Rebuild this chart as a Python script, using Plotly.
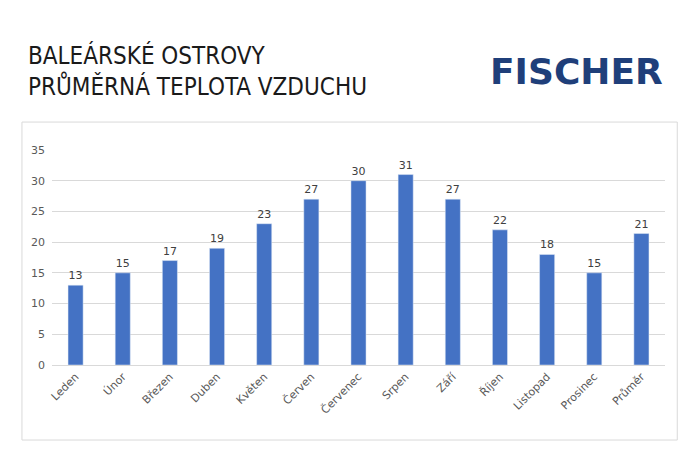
import plotly.graph_objects as go

months = ["Leden", "Únor", "Březen", "Duben", "Květen", "Červen", "Červenec",
          "Srpen", "Září", "Říjen", "Listopad", "Prosinec", "Průměr"]
temps = [13, 15, 17, 19, 23, 27, 30, 31, 27, 22, 18, 15, 21.4]
labels = [str(round(v)) for v in temps]

fig = go.Figure()
fig.add_trace(go.Bar(
    x=months, y=temps, text=labels, textposition="outside",
    marker_color="#4472C4", cliponaxis=False,
    textfont=dict(size=11, color="#404040", family="DejaVu Sans"),
))

fig.update_layout(
    width=700, height=450,
    paper_bgcolor="white", plot_bgcolor="white",
    margin=dict(l=44, r=43, t=142, b=93),
    bargap=0.68,
    showlegend=False,
    font=dict(family="DejaVu Sans", color="#595959"),
    xaxis=dict(tickangle=-45, tickfont=dict(size=11, color="#595959"),
               showline=True, linecolor="#D9D9D9", ticks=""),
    yaxis=dict(range=[0, 35], dtick=5, showgrid=True, gridcolor="#D9D9D9",
               tickfont=dict(size=11, color="#595959"), zeroline=False,
               ticks="", ticklabelstandoff=6),
    shapes=[dict(type="rect", xref="paper", yref="paper",
                 x0=-0.049, x1=1.020, y0=-0.349, y1=1.130,
                 line=dict(color="#D9D9D9", width=1), layer="below")],
    annotations=[
        dict(text="BALEÁRSKÉ OSTROVY<br>PRŮMĚRNÁ TEPLOTA VZDUCHU",
             xref="paper", yref="paper", x=-0.043, y=1.515, xanchor="left",
             yanchor="top", align="left", showarrow=False,
             font=dict(size=24, color="#1a1a1a", family="DejaVu Sans Condensed")),
        dict(text="<b>FISCHER</b>", xref="paper", yref="paper", x=1.0,
             y=1.363, xanchor="right", yanchor="middle", showarrow=False,
             font=dict(size=36, color="#1F3F7A", family="DejaVu Sans")),
    ],
)

fig.write_html("out.html")
